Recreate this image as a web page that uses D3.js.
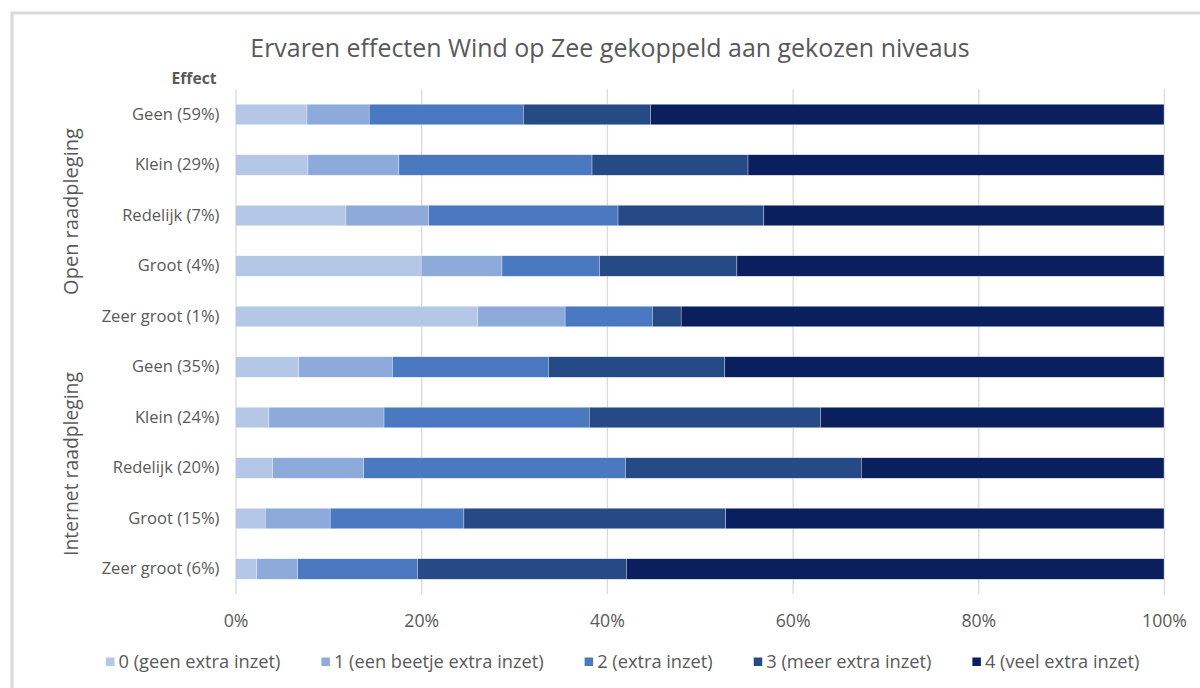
<!DOCTYPE html>
<html>
<head>
<meta charset="utf-8">
<script src="https://cdn.jsdelivr.net/npm/d3@7"></script>
<style>
  body { margin: 0; background: #fff; }
  text { font-family: "Open Sans", sans-serif; fill: #595959; }
</style>
</head>
<body>
<div id="graph"></div>
<script>
// categories, top to bottom
var categories = [
  "Geen (59%)", "Klein (29%)", "Redelijk (7%)", "Groot (4%)", "Zeer groot (1%)",
  "Geen (35%)", "Klein (24%)", "Redelijk (20%)", "Groot (15%)", "Zeer groot (6%)"
];
var groupNames = ["Open raadpleging", "Internet raadpleging"];
var groupOf = [0, 0, 0, 0, 0, 1, 1, 1, 1, 1];

var seriesNames = [
  "0 (geen extra inzet)", "1 (een beetje extra inzet)", "2 (extra inzet)",
  "3 (meer extra inzet)", "4 (veel extra inzet)"
];
// percentages per category
var level0 = [7.7, 7.8, 11.9, 20.0, 26.1, 6.8, 3.6, 4.0, 3.2, 2.3];
var level1 = [6.7, 9.8, 8.9, 8.7, 9.4, 10.1, 12.4, 9.8, 7.0, 4.4];
var level2 = [16.6, 20.8, 20.4, 10.5, 9.4, 16.8, 22.1, 28.2, 14.4, 12.9];
var level3 = [13.7, 16.8, 15.7, 14.8, 3.1, 19.0, 24.9, 25.4, 28.2, 22.5];
var level4 = [55.3, 44.8, 43.1, 46.0, 52.0, 47.3, 37.0, 32.6, 47.2, 57.9];
var xTicks = [0, 20, 40, 60, 80, 100];

var colors = ["#b4c7e7", "#8eaadb", "#4a78c1", "#264a86", "#0a205e"];

var W = 1200, H = 688;
var margin = {top: 89.25, bottom: 93.75, left: 235.5, right: 36};
var width = W - margin.left - margin.right,
    height = H - margin.top - margin.bottom;

// scale a text's font size so it takes the given width
function fit(sel, target) {
  var fs = parseFloat(sel.attr("font-size"));
  var w = sel.node().getComputedTextLength();
  return fs * target / w;
}

var table = categories.map(function(c, i) {
  return {i: i, s0: level0[i], s1: level1[i], s2: level2[i], s3: level3[i], s4: level4[i]};
});
var keys = ["s0", "s1", "s2", "s3", "s4"];
var stacked = d3.stack().keys(keys)(table);

var x = d3.scaleLinear().domain([0, 100]).range([0, width]);
var y = d3.scaleBand()
  .domain(d3.range(categories.length))
  .range([0, height])
  .paddingInner(0.594)
  .paddingOuter(0.297);

var svg = d3.select("#graph").append("svg")
  .attr("width", W).attr("height", H);

// outer frame
svg.append("rect")
  .attr("x", 12).attr("y", 13)
  .attr("width", W + 10).attr("height", H + 10)
  .attr("fill", "#fff").attr("stroke", "#d9d9d9").attr("stroke-width", 3);

var title = svg.append("text")
  .attr("x", 610).attr("y", 57)
  .attr("text-anchor", "middle")
  .attr("font-size", 24)
  .text("Ervaren effecten Wind op Zee gekoppeld aan gekozen niveaus");
title.attr("font-size", fit(title, 720));

var g = svg.append("g")
  .attr("transform", "translate(" + margin.left + "," + margin.top + ")");

// gridlines
g.append("g")
  .attr("class", "grid")
  .call(d3.axisBottom(x).tickValues(xTicks).tickSize(height).tickFormat(""))
  .call(function(s) {
    s.select(".domain").remove();
    s.selectAll("line").attr("stroke", "#d9d9d9").attr("stroke-width", 1.3);
  });

// bars
g.selectAll("g.series")
  .data(stacked)
  .enter().append("g")
    .attr("class", "series")
    .attr("fill", function(d, k) { return colors[k]; })
  .selectAll("rect")
  .data(function(d) { return d; })
  .enter().append("rect")
    .attr("x", function(d) { return x(d[0]); })
    .attr("width", function(d) { return x(d[1]) - x(d[0]); })
    .attr("y", function(d) { return y(d.data.i); })
    .attr("height", y.bandwidth())
    .attr("stroke", "#fff")
    .attr("stroke-width", 0.5)
    .attr("stroke-opacity", 0.6);

// x axis labels
var xa = g.append("g")
  .attr("transform", "translate(0," + height + ")")
  .call(d3.axisBottom(x).tickValues(xTicks).tickSize(0).tickPadding(20)
    .tickFormat(function(d) { return d + "%"; }))
  .call(function(s) {
    s.select(".domain").remove();
    s.selectAll("text").attr("font-size", 15).attr("font-family", null).attr("fill", null);
  });
var xl = xa.selectAll("text").filter(function(d) { return d === 100; });
xa.selectAll("text").attr("font-size", fit(xl, 45));

// y axis labels
var ya = g.append("g")
  .call(d3.axisLeft(y).tickSize(0).tickPadding(16)
    .tickFormat(function(i) { return categories[i]; }))
  .call(function(s) {
    s.select(".domain").remove();
    s.selectAll("text").attr("font-size", 15).attr("font-family", null).attr("fill", null);
  });
var yl = ya.selectAll("text").filter(function(d) { return d === 4; });
ya.selectAll("text").attr("font-size", fit(yl, 118));

var eff = g.append("text")
  .attr("x", -19).attr("y", -5)
  .attr("text-anchor", "end")
  .attr("font-size", 14)
  .attr("font-weight", "bold")
  .text("Effect");
eff.attr("font-size", fit(eff, 45));

// group labels (rotated)
var groupLen = [167, 184];
groupNames.forEach(function(name, gi) {
  var idx = d3.range(categories.length).filter(function(i) { return groupOf[i] === gi; });
  var top = y(idx[0]), bottom = y(idx[idx.length - 1]) + y.bandwidth();
  var cy = (top + bottom) / 2;
  var t = g.append("text")
    .attr("transform", "translate(" + (-158) + "," + (cy - 4) + ") rotate(-90)")
    .attr("text-anchor", "middle")
    .attr("font-size", 17)
    .text(name);
  t.attr("font-size", fit(t, groupLen[gi]));
});

// legend
var legend = svg.append("g").attr("transform", "translate(106,662)");
var probe = legend.append("text").attr("font-size", 15).text(seriesNames[0]);
var legendSize = fit(probe, 162);
probe.remove();
var lx = 0;
seriesNames.forEach(function(name, k) {
  var item = legend.append("g").attr("transform", "translate(" + lx + ",0)");
  item.append("rect")
    .attr("x", 0).attr("y", -4.5)
    .attr("width", 8.5).attr("height", 8.5)
    .attr("fill", colors[k]);
  var t = item.append("text")
    .attr("x", 12.5).attr("dy", "0.35em")
    .attr("font-size", legendSize)
    .text(name);
  lx += 12.5 + t.node().getComputedTextLength() + 41;
});
</script>
</body>
</html>
